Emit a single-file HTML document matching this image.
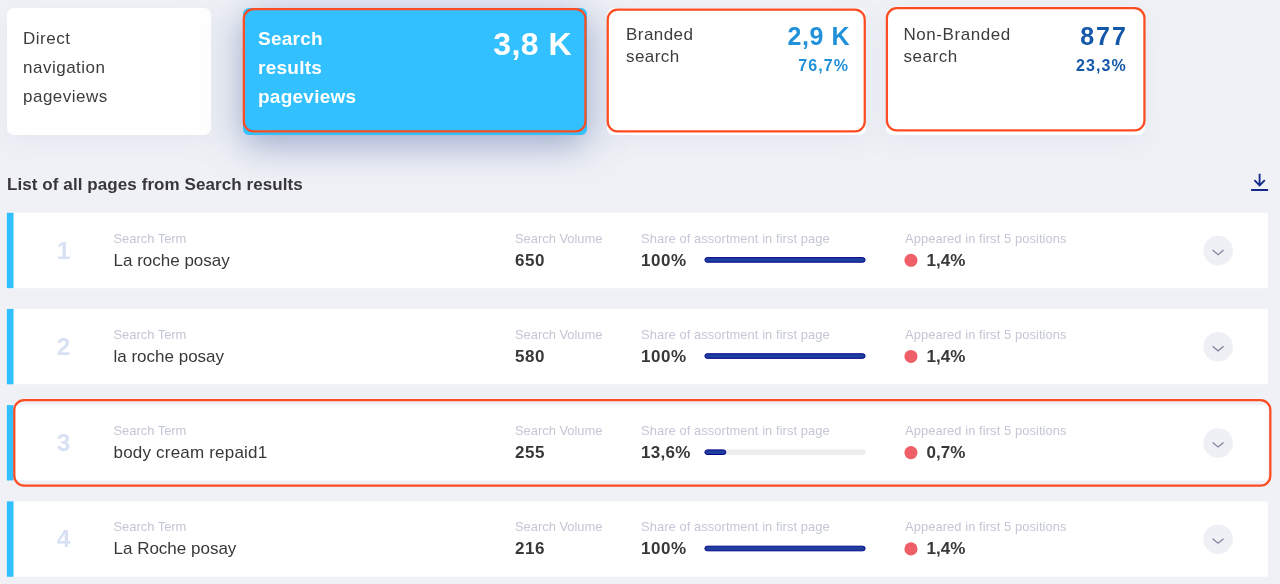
<!DOCTYPE html>
<html lang="en">
<head>
<meta charset="utf-8">
<title>Search results pageviews</title>
<style>
*{box-sizing:border-box;margin:0;padding:0}
html,body{width:1280px;height:584px;overflow:hidden}
body{background:#eff1f6;font-family:"Liberation Sans",sans-serif;color:#3a3a3c;position:relative}
.abs{position:absolute;white-space:nowrap}
.card{position:absolute;background:#fff;border-radius:7px;box-shadow:0 8px 26px 2px rgba(120,135,175,.07)}
.t17{font-size:17px;line-height:29.2px;color:#3d3d40;letter-spacing:.5px}
.row{position:absolute;left:13px;width:1255px;height:75.3px}
.num{position:absolute;left:30.5px;width:40px;text-align:center;top:22.35px;font-size:24.5px;font-weight:bold;color:#d8e1f4;line-height:32px}
.lab{position:absolute;top:18px;font-size:12.9px;line-height:16px;color:#c4c7d5;white-space:nowrap}
.val{position:absolute;top:37.2px;font-size:17px;line-height:22px;color:#38383a;white-space:nowrap}
.b{font-weight:bold}
</style>
</head>
<body>

<!-- Card 1 -->
<div class="card" style="left:7px;top:8px;width:204px;height:127px"></div>
<div class="abs t17" style="left:23px;top:24px">Direct<br>navigation<br>pageviews</div>

<!-- Card 2 (active) -->
<div class="card" style="left:243px;top:8px;width:343.7px;height:127px;background:#33c0ff;border-radius:6px;box-shadow:0 9px 36px 1px rgba(85,112,168,.55)"></div>
<div class="abs b" style="left:258px;top:24px;font-size:19px;line-height:29px;color:#fff;letter-spacing:.25px">Search<br>results<br>pageviews</div>
<div class="abs b" style="right:708px;top:25px;font-size:32px;line-height:38px;color:#fff;letter-spacing:.45px">3,8 K</div>

<!-- Card 3 -->
<div class="card" style="left:607px;top:8px;width:259px;height:127px"></div>
<div class="abs" style="left:626px;top:24px;font-size:17px;line-height:21.5px;color:#3d3d40;letter-spacing:.45px">Branded<br>search</div>
<div class="abs b" style="right:430px;top:21px;transform:translateY(.3px);font-size:25px;line-height:30px;color:#2191d9;letter-spacing:.55px">2,9 K</div>
<div class="abs b" style="right:430.8px;top:55px;transform:translateY(.7px);font-size:16px;line-height:20px;color:#2191d9;letter-spacing:1.12px">76,7%</div>

<!-- Card 4 -->
<div class="card" style="left:886px;top:8px;width:259px;height:127px"></div>
<div class="abs" style="left:903.5px;top:24px;font-size:17px;line-height:21.5px;color:#3d3d40;letter-spacing:.55px">Non-Branded<br>search</div>
<div class="abs b" style="right:152.3px;top:21px;transform:translateY(.36px);font-size:25px;line-height:30px;color:#1557a9;letter-spacing:1.9px">877</div>
<div class="abs b" style="right:153.1px;top:55px;transform:translateY(.7px);font-size:16px;line-height:20px;color:#1557a9;letter-spacing:1.12px">23,3%</div>

<!-- Heading -->
<div class="abs b" style="left:7px;top:174.2px;font-size:17px;line-height:22px;color:#37373a;letter-spacing:.08px">List of all pages from Search results</div>
<svg class="abs" style="left:1248px;top:170px" width="24" height="24" viewBox="0 0 24 24" fill="none" stroke="#15298a" stroke-width="1.85"><path d="M11.6 3.7V15.2M6.4 10.2l5.2 5.3 5.2-5.3M3.1 20h17"/></svg>

<!-- Rows -->
<svg class="abs" style="left:0;top:0" width="1280" height="584">
<rect x="10" y="212.80" width="1258.1" height="75.35" rx="2" fill="#fff"/><rect x="6.85" y="212.80" width="6.65" height="75.35" fill="#31bffe"/>
<rect x="704.4" y="257.10" width="161.2" height="5.6" rx="2.8" fill="#ececee"/><rect x="704.9" y="257.60" width="160.20" height="4.6" rx="2.3" fill="#1f3f9e" stroke="#05058c" stroke-width="1"/>
<rect x="10" y="308.95" width="1258.1" height="75.35" rx="2" fill="#fff"/><rect x="6.85" y="308.95" width="6.65" height="75.35" fill="#31bffe"/>
<rect x="704.4" y="353.25" width="161.2" height="5.6" rx="2.8" fill="#ececee"/><rect x="704.9" y="353.75" width="160.20" height="4.6" rx="2.3" fill="#1f3f9e" stroke="#05058c" stroke-width="1"/>
<rect x="10" y="405.10" width="1258.1" height="75.35" rx="2" fill="#fff"/><rect x="6.85" y="405.10" width="6.65" height="75.35" fill="#31bffe"/>
<rect x="704.4" y="449.40" width="161.2" height="5.6" rx="2.8" fill="#ececee"/><rect x="704.9" y="449.90" width="20.92" height="4.6" rx="2.3" fill="#1f3f9e" stroke="#05058c" stroke-width="1"/>
<rect x="10" y="501.40" width="1258.1" height="75.35" rx="2" fill="#fff"/><rect x="6.85" y="501.40" width="6.65" height="75.35" fill="#31bffe"/>
<rect x="704.4" y="545.70" width="161.2" height="5.6" rx="2.8" fill="#ececee"/><rect x="704.9" y="546.20" width="160.20" height="4.6" rx="2.3" fill="#1f3f9e" stroke="#05058c" stroke-width="1"/>
<circle cx="910.95" cy="260.30" r="6.55" fill="#ef5f68"/><circle cx="1218.1" cy="250.65" r="14.8" fill="#eef0f5"/><path d="M1212.6 250.10l5.5 4.6 5.5-4.6" fill="none" stroke="#81869d" stroke-width="1.25"/>
<circle cx="910.95" cy="356.45" r="6.55" fill="#ef5f68"/><circle cx="1218.1" cy="346.80" r="14.8" fill="#eef0f5"/><path d="M1212.6 346.25l5.5 4.6 5.5-4.6" fill="none" stroke="#81869d" stroke-width="1.25"/>
<circle cx="910.95" cy="452.60" r="6.55" fill="#ef5f68"/><circle cx="1218.1" cy="442.95" r="14.8" fill="#eef0f5"/><path d="M1212.6 442.40l5.5 4.6 5.5-4.6" fill="none" stroke="#81869d" stroke-width="1.25"/>
<circle cx="910.95" cy="548.90" r="6.55" fill="#ef5f68"/><circle cx="1218.1" cy="539.25" r="14.8" fill="#eef0f5"/><path d="M1212.6 538.70l5.5 4.6 5.5-4.6" fill="none" stroke="#81869d" stroke-width="1.25"/>
</svg>

<div class="row" style="top:0;transform:translateY(212.80px)">
  <div class="num">1</div>
  <div class="lab" style="left:100.5px">Search Term</div><div class="val" style="left:100.5px">La roche posay</div>
  <div class="lab" style="left:502px">Search Volume</div><div class="val b" style="left:502px;letter-spacing:.5px">650</div>
  <div class="lab" style="left:628px;letter-spacing:.075px">Share of assortment in first page</div><div class="val b" style="left:628px;letter-spacing:.55px">100%</div>
  <div class="lab" style="left:892px;letter-spacing:.085px">Appeared in first 5 positions</div><div class="val b" style="left:913.6px">1,4%</div>
</div>

<div class="row" style="top:0;transform:translateY(308.95px)">
  <div class="num">2</div>
  <div class="lab" style="left:100.5px">Search Term</div><div class="val" style="left:100.5px">la roche posay</div>
  <div class="lab" style="left:502px">Search Volume</div><div class="val b" style="left:502px;letter-spacing:.5px">580</div>
  <div class="lab" style="left:628px;letter-spacing:.075px">Share of assortment in first page</div><div class="val b" style="left:628px;letter-spacing:.55px">100%</div>
  <div class="lab" style="left:892px;letter-spacing:.085px">Appeared in first 5 positions</div><div class="val b" style="left:913.6px">1,4%</div>
</div>

<div class="row" style="top:0;transform:translateY(405.10px)">
  <div class="num">3</div>
  <div class="lab" style="left:100.5px">Search Term</div><div class="val" style="left:100.5px;letter-spacing:.2px">body cream repaid1</div>
  <div class="lab" style="left:502px">Search Volume</div><div class="val b" style="left:502px;letter-spacing:.5px">255</div>
  <div class="lab" style="left:628px;letter-spacing:.075px">Share of assortment in first page</div><div class="val b" style="left:628px;letter-spacing:.3px">13,6%</div>
  <div class="lab" style="left:892px;letter-spacing:.085px">Appeared in first 5 positions</div><div class="val b" style="left:913.6px">0,7%</div>
</div>

<div class="row" style="top:0;transform:translateY(501.40px)">
  <div class="num">4</div>
  <div class="lab" style="left:100.5px">Search Term</div><div class="val" style="left:100.5px">La Roche posay</div>
  <div class="lab" style="left:502px">Search Volume</div><div class="val b" style="left:502px;letter-spacing:.5px">216</div>
  <div class="lab" style="left:628px;letter-spacing:.075px">Share of assortment in first page</div><div class="val b" style="left:628px;letter-spacing:.55px">100%</div>
  <div class="lab" style="left:892px;letter-spacing:.085px">Appeared in first 5 positions</div><div class="val b" style="left:913.6px">1,4%</div>
</div>

<svg class="abs" style="left:0;top:0" width="1280" height="584" fill="none" stroke="#fc4c22" stroke-width="2.25">
<rect x="243.85" y="9.05" width="341.60" height="122.40" rx="9.85"/>
<rect x="607.75" y="9.55" width="257.00" height="121.90" rx="9.85"/>
<rect x="886.90" y="8.20" width="257.55" height="122.15" rx="9.85"/>
<rect x="14.30" y="400.05" width="1256.05" height="85.60" rx="9.85"/>
</svg>
</body>
</html>
